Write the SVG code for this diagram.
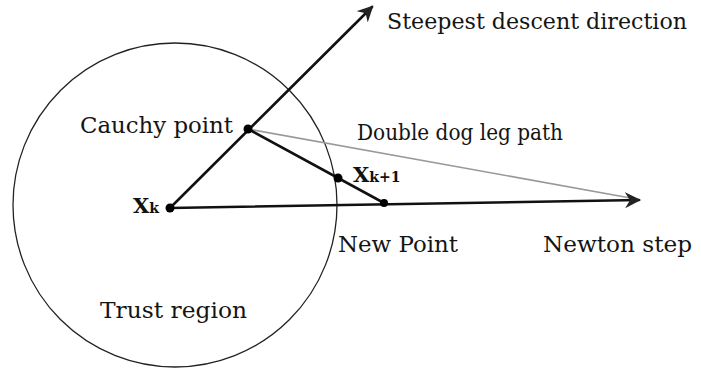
<svg xmlns="http://www.w3.org/2000/svg" width="701" height="371" viewBox="0 0 701 371">
  <style>
    .lbl { font-family: "DejaVu Serif", "Liberation Serif", serif; font-size: 22px; fill: #141414; }
    .var { font-family: "DejaVu Serif", "Liberation Serif", serif; font-weight: bold; fill: #111; }
    .ray { stroke: #111; stroke-width: 2.6; fill: none; stroke-linecap: round; }
    .path { stroke: #999; stroke-width: 1.6; fill: none; }
    .pt { fill: #000; }
  </style>
  <defs>
    <marker id="arrow" markerUnits="userSpaceOnUse" markerWidth="20" markerHeight="18" refX="14" refY="8" orient="auto">
      <path d="M0,0 L16,8 L0,16 L5,8 z" fill="#222"/>
    </marker>
  </defs>
  <rect width="701" height="371" fill="#fff"/>

  <g id="trust-region">
    <circle cx="175" cy="205" r="162" fill="none" stroke="#222" stroke-width="1.3"/>
    <text class="lbl" x="100" y="318" textLength="147" lengthAdjust="spacingAndGlyphs">Trust region</text>
  </g>

  <g id="connectors">
    <line class="path" x1="248" y1="129" x2="636" y2="199"/>
    <line class="ray" x1="170" y1="208" x2="372" y2="7" marker-end="url(#arrow)"/>
    <line class="ray" x1="170" y1="208" x2="639" y2="200" stroke-width="2.3" marker-end="url(#arrow)"/>
    <line class="ray" x1="248" y1="129" x2="384" y2="203"/>
  </g>

  <g id="xk">
    <circle class="pt" cx="170" cy="208" r="4.5"/>
    <text class="var" x="133" y="213" font-size="21">X<tspan font-size="14">k</tspan></text>
  </g>

  <g id="cauchy-point">
    <circle class="pt" cx="248" cy="129" r="4.5"/>
    <text class="lbl" x="80" y="133" textLength="153" lengthAdjust="spacingAndGlyphs">Cauchy point</text>
  </g>

  <g id="xk1">
    <circle class="pt" cx="338" cy="178" r="4.5"/>
    <text class="var" x="353" y="182" font-size="21">X<tspan font-size="14">k+1</tspan></text>
  </g>

  <g id="new-point">
    <circle class="pt" cx="384" cy="203" r="4"/>
    <text class="lbl" x="338" y="252" textLength="120" lengthAdjust="spacingAndGlyphs">New Point</text>
  </g>

  <g id="steepest-descent">
    <text class="lbl" x="387" y="29" textLength="300" lengthAdjust="spacingAndGlyphs">Steepest descent direction</text>
  </g>

  <g id="double-dog-leg">
    <text class="lbl" x="357" y="140" textLength="206" lengthAdjust="spacingAndGlyphs">Double dog leg path</text>
  </g>

  <g id="newton-step">
    <text class="lbl" x="543" y="252" textLength="149" lengthAdjust="spacingAndGlyphs">Newton step</text>
  </g>
</svg>
